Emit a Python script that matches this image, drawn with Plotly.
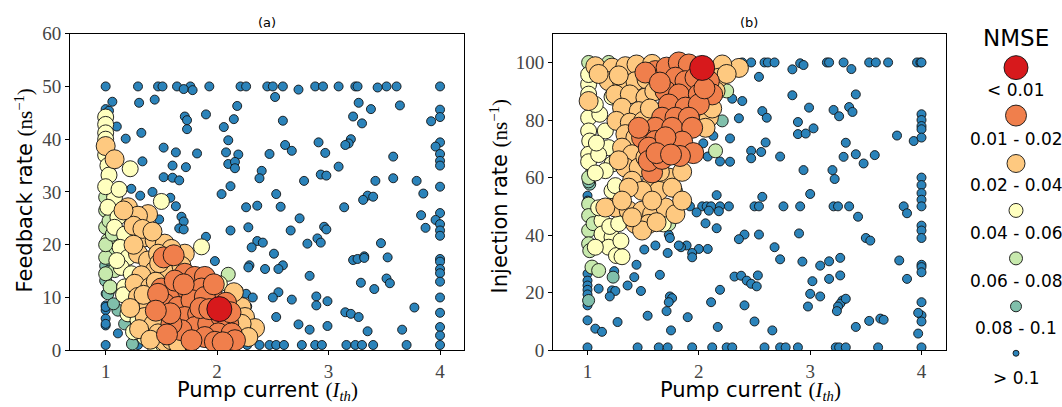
import plotly.graph_objects as go

W = 1062                  # picture width
FIG_H = 418               # rendered height
# the capture maps a page row y onto picture row 9.3 + 0.951*y; layout is designed in picture rows
CAP_OFF, CAP_SCALE = 9.3, 0.951


def fy(py):
    """paper fraction for a target picture row"""
    return 1 - ((py - CAP_OFF) / CAP_SCALE) / FIG_H


# ---------------- categories / styling ----------------
CATEGORIES = ["&lt; 0.01", "0.01 - 0.02", "0.02 - 0.04", "0.04 - 0.06",
              "0.06 - 0.08", "0.08 - 0.1", "&gt; 0.1"]
COLORS = ["#d7191c", "#f07f4c", "#fec980", "#ffffbf", "#c7e9ad", "#80bfab", "#2b83ba"]
SIZES = [25, 21, 19, 16, 14, 12, 9]
LEGEND_SIZES = [24, 21, 18, 14, 13, 11, 6]

X_TICKS = [1, 2, 3, 4]
A_Y_TICKS = [0, 10, 20, 30, 40, 50, 60]
B_Y_TICKS = [0, 20, 40, 60, 80, 100]

# ---------------- panel (a): pump current vs feedback rate ----------------
A_RED = [(2.02, 7.8)]
A_ORANGE = [(1.52, 17.6), (1.61, 18.0), (1.71, 14.5), (1.80, 13.9), (1.89, 13.9), (1.50, 11.7),
            (1.62, 10.7), (1.74, 11.3), (1.86, 11.7), (1.95, 10.7), (1.53, 8.8), (1.65, 8.2),
            (1.77, 9.5), (1.89, 10.1), (1.71, 6.3), (1.83, 6.9), (1.80, 4.4), (1.92, 5.0),
            (2.04, 6.3), (2.10, 5.0), (1.68, 3.8), (2.01, 3.2), (2.13, 3.2), (1.89, 2.5),
            (1.77, 1.9), (1.59, 5.0), (2.16, 1.9), (1.98, 1.6), (1.62, 13.2), (1.47, 10.7),
            (1.97, 12.5), (1.58, 7.0), (2.08, 9.0), (1.85, 8.0), (1.45, 7.5), (1.55, 3.0),
            (2.05, 1.5), (1.70, 12.5), (1.93, 7.8), (2.12, 7.2)]
A_PEACH = [(1.0, 38.7), (1.08, 36.2), (1.20, 27.1), (1.38, 25.8), (1.29, 25.5), (1.25, 23.6),
           (1.35, 21.4), (1.44, 20.8), (1.71, 18.3), (1.29, 18.3), (1.38, 17.0), (1.44, 15.1),
           (1.32, 14.2), (1.26, 12.6), (1.40, 12.0), (1.29, 10.1), (1.38, 8.2), (1.35, 6.3),
           (1.43, 5.0), (1.47, 3.2), (1.53, 1.6), (1.59, 1.9), (2.22, 8.2), (2.25, 6.3),
           (2.34, 4.2), (2.22, 3.8), (2.22, 5.0), (1.16, 26.5), (1.53, 20.2), (1.59, 19.2),
           (1.62, 15.1), (1.47, 18.3), (1.33, 23.0), (1.42, 22.5), (1.55, 14.5), (1.68, 16.0),
           (1.45, 13.0), (1.34, 10.5), (1.30, 4.0), (1.40, 2.0), (1.65, 1.2), (2.15, 11.0),
           (1.25, 20.0), (1.22, 8.0), (1.48, 16.5), (2.28, 2.5)]
A_YELLOW = [(1.0, 44.2), (1.0, 42.8), (1.0, 41.2), (1.0, 40.0), (1.0, 37.0), (1.02, 35.0),
            (1.03, 33.2), (1.22, 34.4), (1.50, 28.2), (1.08, 29.0), (1.02, 27.1), (1.11, 25.2),
            (1.08, 23.3), (1.17, 22.0), (1.13, 19.5), (1.20, 17.6), (1.14, 15.7), (1.23, 14.5),
            (1.17, 12.0), (1.23, 9.5), (1.20, 6.9), (1.29, 5.7), (1.35, 2.5), (1.44, 0.9),
            (1.86, 19.6), (2.02, 12.6), (1.0, 31.0), (1.12, 30.5), (1.10, 17.0), (1.16, 10.5),
            (1.25, 3.5), (1.52, 1.0)]
A_GREEN = [(1.0, 29.0), (1.0, 26.5), (1.02, 20.8), (1.0, 23.3), (1.07, 18.9), (1.0, 17.6),
           (1.08, 15.1), (1.0, 14.5), (2.10, 14.4), (1.04, 12.0), (1.0, 20.0), (1.06, 22.0),
           (1.03, 24.5)]
A_TEAL = [(1.0, 13.2), (1.02, 10.7), (1.11, 7.6), (1.17, 5.0), (1.24, 1.2), (1.07, 8.8),
          (1.0, 16.0), (1.03, 15.0), (1.05, 11.8)]
A_BLUE = [(1.0, 50), (1.29, 50), (1.47, 50), (1.51, 50), (1.64, 50), (1.76, 50), (1.93, 50),
          (2.21, 50), (2.26, 50), (2.45, 50), (2.50, 50), (2.59, 50), (2.88, 50), (2.95, 50),
          (3.09, 50), (3.24, 50), (3.26, 50), (3.52, 50), (3.61, 50), (4.0, 50),
          (1.70, 49.5), (1.78, 49.3), (2.73, 49.4), (3.44, 49.8), (2.52, 48.0),
          (1.06, 47.1), (1.30, 46.9), (1.44, 47.5), (2.18, 46.3), (3.27, 46.9), (3.38, 45.7),
          (3.64, 46.4), (4.0, 45.6), (4.0, 44.2), (3.92, 43.4), (3.30, 43.0), (3.22, 44.3),
          (2.59, 43.5), (2.15, 43.8), (2.06, 42.3), (1.90, 44.7), (1.71, 44.3), (1.73, 43.6),
          (1.73, 41.9), (1.10, 42.4), (1.32, 41.2), (1.18, 40.1), (2.10, 39.8), (2.91, 39.4),
          (3.20, 40.0), (3.18, 39.2), (3.15, 38.9), (2.61, 38.9), (2.67, 37.8), (1.52, 38.4),
          (1.63, 37.5), (2.08, 37.5), (2.19, 37.1), (2.47, 37.2), (2.97, 37.4), (3.58, 36.7),
          (4.0, 39.4), (3.96, 38.6), (4.0, 37.2), (4.0, 35.9), (4.0, 35.0), (1.82, 37.3),
          (1.33, 35.8), (1.60, 35.0), (1.72, 34.7), (2.10, 35.3), (2.16, 35.7), (2.16, 34.5),
          (2.40, 34.0), (2.38, 32.6), (2.93, 33.3), (2.98, 33.1), (3.09, 34.8), (3.58, 32.6),
          (1.52, 32.8), (1.60, 32.7), (1.66, 32.2), (2.78, 32.1), (3.42, 32.1), (3.79, 32.1),
          (3.85, 29.7), (1.23, 30.6), (1.42, 30.0), (1.31, 29.3), (1.58, 28.9), (2.04, 29.6),
          (2.12, 31.1), (2.53, 29.6), (4.0, 31.0), (3.35, 29.3), (3.40, 29.1), (3.31, 28.5),
          (1.63, 27.3), (2.26, 27.1), (2.36, 27.4), (2.57, 27.2), (3.14, 27.1), (4.0, 26.0),
          (3.83, 25.6), (1.68, 25.3), (1.70, 24.4), (3.96, 24.7), (4.0, 23.9), (3.87, 23.2),
          (2.74, 25.0), (2.96, 23.4), (2.98, 22.9), (2.28, 23.3), (2.12, 22.7), (2.66, 22.7),
          (1.66, 23.1), (1.70, 22.9), (4.0, 22.7), (4.0, 21.7), (1.48, 24.8), (1.90, 21.5),
          (2.36, 20.7), (2.41, 20.4), (2.31, 19.5), (2.81, 20.2), (2.90, 21.2), (2.93, 20.4),
          (3.47, 20.3), (1.98, 16.9), (2.51, 18.3), (3.22, 17.1), (3.26, 17.3), (3.32, 17.8),
          (3.32, 17.5), (3.53, 17.6), (4.0, 17.3), (4.0, 16.8), (2.59, 16.1), (2.55, 15.4),
          (2.29, 16.1), (2.28, 15.7), (2.43, 15.4), (4.0, 15.4), (4.0, 14.6), (2.83, 14.1),
          (3.52, 13.6), (3.55, 12.7), (3.29, 12.8), (4.0, 13.0), (3.41, 11.6), (2.19, 11.5),
          (2.55, 11.0), (2.26, 10.7), (2.32, 10.0), (2.50, 10.0), (2.67, 9.6), (2.89, 10.2),
          (2.89, 8.5), (2.99, 9.3), (4.0, 10.0), (3.77, 8.1), (2.27, 8.3), (3.15, 7.2),
          (3.20, 6.9), (3.27, 6.3), (4.0, 7.1), (2.53, 6.3), (2.73, 4.9), (2.99, 4.6),
          (4.0, 4.4), (2.83, 3.9), (3.66, 3.9), (3.35, 3.6), (4.0, 2.8),
          (1.0, 10.7), (1.0, 8.5), (1.0, 7.6), (1.0, 6.0), (1.0, 4.7), (1.11, 3.2),
          (1.25, 2.5), (1.0, 45.7), (1.03, 45.4), (1.0, 8.2), (1.0, 5.0),
          (1.0, 1), (1.29, 1), (1.72, 1), (1.80, 1), (2.27, 1), (2.38, 1), (2.47, 1),
          (2.53, 1), (2.60, 1), (2.76, 1), (2.88, 1), (2.94, 1), (3.16, 1), (3.24, 1),
          (3.30, 1), (3.40, 1), (3.70, 1), (4.0, 1)]

# ---------------- panel (b): pump current vs injection rate ----------------
B_RED = [(2.03, 98.1)]
B_ORANGE = [(1.61, 97.0), (1.71, 98.2), (1.82, 100.0), (1.91, 99.3), (1.79, 94.7), (1.88, 93.5),
            (1.97, 94.7), (2.09, 93.5), (1.70, 90.1), (1.82, 88.9), (2.00, 88.9), (2.12, 88.9),
            (1.73, 85.4), (1.88, 84.3), (2.00, 85.4), (1.67, 80.8), (1.79, 80.8), (1.91, 80.8),
            (1.61, 77.3), (1.76, 77.3), (1.94, 77.3), (1.49, 73.9), (1.61, 72.7), (1.73, 70.4),
            (1.79, 69.3), (1.55, 70.4), (1.58, 61.8), (1.55, 65.8), (1.67, 66.5), (1.46, 77.3),
            (1.52, 96.5), (1.65, 93.0), (2.05, 91.0), (1.85, 72.5), (1.70, 74.0), (1.95, 68.5),
            (1.83, 67.5), (1.62, 68.5), (1.75, 68.0)]
B_PEACH = [(1.07, 98.7), (1.22, 98.2), (1.34, 98.7), (1.44, 99.3), (1.19, 93.5), (1.31, 93.5),
           (1.43, 93.5), (1.53, 94.1), (1.01, 86.6), (1.25, 88.9), (1.38, 88.9), (1.52, 87.8),
           (1.31, 84.3), (1.46, 83.1), (1.26, 79.7), (1.38, 79.1), (1.50, 79.7), (1.34, 75.1),
           (1.43, 73.9), (1.31, 70.4), (1.40, 68.1), (2.36, 98.1), (2.21, 99.3), (2.18, 94.7),
           (2.15, 90.1), (2.09, 80.8), (2.06, 77.3), (1.34, 63.5), (1.46, 63.5), (1.40, 58.9),
           (1.58, 58.9), (1.73, 60.0), (1.25, 49.6), (1.37, 48.5), (1.49, 48.5), (1.58, 47.3),
           (1.70, 49.6), (1.79, 47.3), (1.43, 43.9), (1.55, 43.9), (1.49, 41.6), (1.40, 46.2),
           (1.64, 55.4), (1.49, 55.4), (1.37, 56.5), (1.76, 56.5), (1.58, 52.0), (1.16, 49.6),
           (1.31, 52.0), (1.60, 90.0), (1.56, 84.0), (1.28, 66.0), (1.52, 67.0), (1.85, 62.0),
           (1.65, 62.0), (1.10, 96.0), (1.28, 95.5), (1.58, 99.5), (2.25, 96.0), (2.12, 84.0),
           (1.85, 52.0), (1.62, 44.5)]
B_YELLOW = [(1.01, 92.4), (1.01, 80.8), (1.01, 76.2), (1.02, 72.7), (1.01, 68.1), (1.01, 65.5),
            (1.11, 82.0), (1.16, 76.2), (1.19, 70.4), (1.10, 68.0), (1.19, 95.8), (1.01, 95.8),
            (1.22, 64.7), (1.16, 62.4), (1.07, 61.6), (1.07, 85.4), (1.13, 45.0), (1.13, 40.4),
            (1.22, 39.3), (1.19, 35.8), (1.26, 32.9), (1.31, 32.5), (1.07, 35.8), (1.68, 43.9),
            (1.22, 55.4), (1.25, 57.2), (1.20, 43.0), (1.28, 44.0), (1.10, 49.5), (1.30, 38.0),
            (1.01, 89.0), (1.08, 72.0), (1.85, 82.0), (1.22, 88.0)]
B_GREEN = [(1.01, 60.0), (1.01, 100.0), (1.19, 100.0), (1.01, 50.8), (1.01, 46.8), (1.01, 41.6),
           (1.01, 37.0), (1.02, 34.6), (1.04, 28.9), (1.10, 27.7), (1.79, 55.4), (1.73, 43.9),
           (2.15, 69.3), (2.25, 90.1), (1.06, 99.0), (1.05, 44.0)]
B_TEAL = [(1.23, 25.4), (1.01, 17.3), (1.02, 57.7), (2.21, 79.7), (1.01, 58.5), (1.04, 62.5)]
B_BLUE = [(2.39, 100), (2.47, 100), (2.59, 100), (2.62, 100), (2.68, 100), (3.15, 100),
          (3.17, 100), (3.30, 100), (3.53, 100), (3.59, 100), (3.70, 100), (3.96, 100),
          (3.99, 100), (4.0, 100), (2.84, 97.6), (2.91, 99.7), (2.94, 99.1), (3.37, 97.7),
          (2.54, 95.0), (2.30, 87.4), (2.39, 86.6), (2.84, 88.6), (3.41, 88.9), (2.99, 84.3),
          (3.21, 83.5), (3.35, 84.5), (3.26, 81.3), (3.38, 82.8), (2.57, 83.1), (2.61, 80.8),
          (2.36, 80.6), (2.89, 79.3), (3.03, 77.1), (2.89, 75.1), (2.96, 75.3), (3.78, 74.6),
          (3.93, 72.7), (4.0, 82.0), (4.0, 80.0), (4.0, 77.9), (4.0, 76.8), (4.0, 73.9),
          (2.28, 73.6), (2.13, 74.5), (2.60, 72.2), (3.32, 72.1), (2.04, 71.9), (2.08, 67.3),
          (1.96, 67.8), (2.47, 69.3), (2.56, 68.9), (2.47, 66.7), (2.73, 67.3), (3.30, 67.2),
          (3.41, 68.1), (3.58, 67.8), (3.48, 64.9), (2.19, 65.6), (2.28, 65.5), (2.94, 62.6),
          (3.20, 62.6), (3.22, 59.5), (4.0, 60.0), (4.0, 57.4), (4.0, 54.6), (4.0, 52.3),
          (4.0, 50.0), (2.16, 53.9), (2.57, 53.3), (3.00, 54.3), (1.92, 50), (2.03, 50),
          (2.07, 50), (2.11, 50), (2.09, 48.5), (2.19, 50), (2.27, 50), (2.50, 50), (2.54, 50),
          (2.76, 50), (2.91, 50), (3.21, 50), (3.25, 50), (3.35, 50), (1.98, 47.9),
          (3.43, 46.4), (3.84, 50), (3.87, 47.6), (2.18, 48.3), (2.06, 44.1), (2.16, 42.4),
          (4.0, 43.3), (4.0, 41.6), (4.0, 39.0), (2.90, 40.6), (2.54, 40.2), (2.41, 40.2),
          (2.36, 38.6), (3.50, 39.0), (3.54, 38.1), (1.89, 36.4), (2.00, 35.2), (2.08, 35.2),
          (1.84, 35.8), (1.51, 35.0), (1.61, 36.4), (1.72, 33.8), (2.68, 35.8), (1.94, 33.8),
          (1.94, 32.3), (2.73, 31.6), (2.93, 30.8), (3.17, 30.9), (3.27, 32.1), (3.09, 29.4),
          (3.80, 31.2), (4.0, 29.7), (4.0, 28.9), (4.0, 27.1), (3.87, 24.8), (3.17, 24.8),
          (3.02, 24.0), (2.32, 25.6), (2.38, 25.9), (2.43, 24.2), (2.47, 23.1), (2.52, 22.2),
          (2.53, 26.0), (3.27, 26.0), (1.65, 26.2), (1.44, 29.7), (1.42, 25.4), (1.36, 22.5),
          (1.24, 27.5), (1.22, 20.8), (1.25, 20.6), (1.20, 18.7), (1.10, 21.4), (1.48, 20.6),
          (1.74, 18.7), (1.76, 18.1), (1.73, 16.7), (1.71, 13.6), (2.19, 21.0), (3.00, 19.6),
          (3.09, 18.7), (2.98, 15.2), (3.29, 17.3), (3.27, 16.2), (3.25, 15.2), (3.24, 13.6),
          (3.32, 17.9), (4.0, 16.7), (4.0, 12.1), (3.97, 13.0), (4.0, 10.0), (3.97, 5.8),
          (2.41, 15.6), (2.11, 16.7), (3.53, 10.2), (3.63, 11.0), (3.66, 10.6), (3.41, 8.1),
          (2.50, 10.0), (1.90, 11.5), (1.54, 12.0), (1.27, 9.8), (1.0, 10.4), (1.07, 7.5),
          (1.13, 6.4), (1.75, 6.9), (2.17, 8.1), (2.66, 6.9),
          (1.0, 26.6), (1.0, 24.2), (1.0, 22.5), (1.0, 21.0), (1.0, 19.4), (1.0, 17.3),
          (1.0, 15.6), (1.0, 53.7), (1.0, 52.0), (1.73, 40.1), (1.74, 39.0), (1.82, 36.4),
          (1.0, 1), (1.45, 1), (1.64, 1), (1.72, 1), (1.94, 1), (2.12, 1), (2.25, 1), (2.30, 1),
          (2.59, 1), (2.73, 1), (2.78, 1), (2.89, 1), (3.23, 1), (3.26, 1), (3.32, 1),
          (3.61, 1), (4.0, 1)]

A_SERIES = [A_RED, A_ORANGE, A_PEACH, A_YELLOW, A_GREEN, A_TEAL, A_BLUE]
B_SERIES = [B_RED, B_ORANGE, B_PEACH, B_YELLOW, B_GREEN, B_TEAL, B_BLUE]

fig = go.Figure()

# draw worst (blue) first so the best categories sit on top
for idx in reversed(range(len(CATEGORIES))):
    for series, xa, ya in ((A_SERIES, "x", "y"), (B_SERIES, "x2", "y2")):
        pts = series[idx]
        fig.add_trace(go.Scatter(
            x=[p[0] for p in pts], y=[p[1] for p in pts],
            mode="markers", xaxis=xa, yaxis=ya, showlegend=False,
            hoverinfo="skip",
            marker=dict(size=SIZES[idx], color=COLORS[idx],
                        line=dict(color="#111111", width=0.9), opacity=1),
        ))

TICK_FONT = dict(family="Liberation Serif, DejaVu Serif, serif", size=19, color="#444444")
axis_common = dict(showline=True, mirror=True, linecolor="black", linewidth=1,
                   ticks="outside", ticklen=4, tickwidth=1, tickcolor="black",
                   showgrid=False, zeroline=False, tickfont=TICK_FONT)

Y_DOMAIN = [fy(350), fy(33)]
fig.update_layout(
    width=W, height=FIG_H, autosize=False,
    margin=dict(l=0, r=0, t=0, b=0, pad=0),
    paper_bgcolor="white", plot_bgcolor="white",
    xaxis=dict(domain=[70 / W, 464 / W], range=[0.68, 4.215], tickvals=X_TICKS, **axis_common),
    yaxis=dict(domain=Y_DOMAIN, range=[0, 60], tickvals=A_Y_TICKS, **axis_common),
    xaxis2=dict(domain=[553 / W, 946 / W], range=[0.69, 4.22], tickvals=X_TICKS,
                anchor="y2", **axis_common),
    yaxis2=dict(domain=Y_DOMAIN, range=[0, 110], tickvals=B_Y_TICKS,
                anchor="x2", **axis_common),
)

SANS = "DejaVu Sans, Verdana, sans-serif"
SERIF_SPAN = "<span style='font-family:Liberation Serif, DejaVu Serif, serif'>"


def label(text, px, py, size, angle=0):
    return dict(text=text, x=px / W, y=fy(py), xref="paper", yref="paper",
                xanchor="center", yanchor="middle", textangle=angle,
                showarrow=False, font=dict(family=SANS, size=size, color="black"))


ann = [label("(a)", 267, 22, 13), label("(b)", 749, 22, 13)]
xlab = "Pump current " + SERIF_SPAN + "(<i>I<sub>th</sub></i>)</span>"
ann.append(label(xlab, 267, 391, 21))
ann.append(label(xlab, 750, 391, 21))
ann.append(label("Feedback rate " + SERIF_SPAN + "(ns<sup>−1</sup>)</span>", 24, 190, 21, -90))
ann.append(label("Injection rate " + SERIF_SPAN + "(ns<sup>−1</sup>)</span>", 499, 196, 21, -90))

# legend (drawn manually: marker above label)
LEG_X = 1016
LEG_MARK_Y = [67, 115, 163, 210, 258, 306, 353]
LEG_TEXT_Y = [89, 138, 185, 233, 281, 328, 378]
ann.append(label("NMSE", LEG_X, 37, 23))
shapes = []
for i, lab in enumerate(CATEGORIES):
    r = LEGEND_SIZES[i] / 2
    cy = LEG_MARK_Y[i]
    shapes.append(dict(type="circle", xref="paper", yref="paper",
                       x0=(LEG_X - r) / W, x1=(LEG_X + r) / W,
                       y0=fy(cy + r), y1=fy(cy - r),
                       fillcolor=COLORS[i], line=dict(color="#111111", width=0.9)))
    ann.append(label(lab, LEG_X, LEG_TEXT_Y[i], 17))

fig.update_layout(annotations=ann, shapes=shapes)

PAGE_FIX = (
    "var gd=document.getElementById('{plot_id}');"
    "document.documentElement.style.margin='0';"
    "document.body.style.margin='0';"
    "document.body.style.padding='0';"
    "document.body.style.overflow='hidden';"
    "gd.style.position='absolute';gd.style.left='0px';gd.style.top='0px';"
)
fig.write_html("out.html", config={"responsive": False, "displayModeBar": False},
               post_script=PAGE_FIX)
